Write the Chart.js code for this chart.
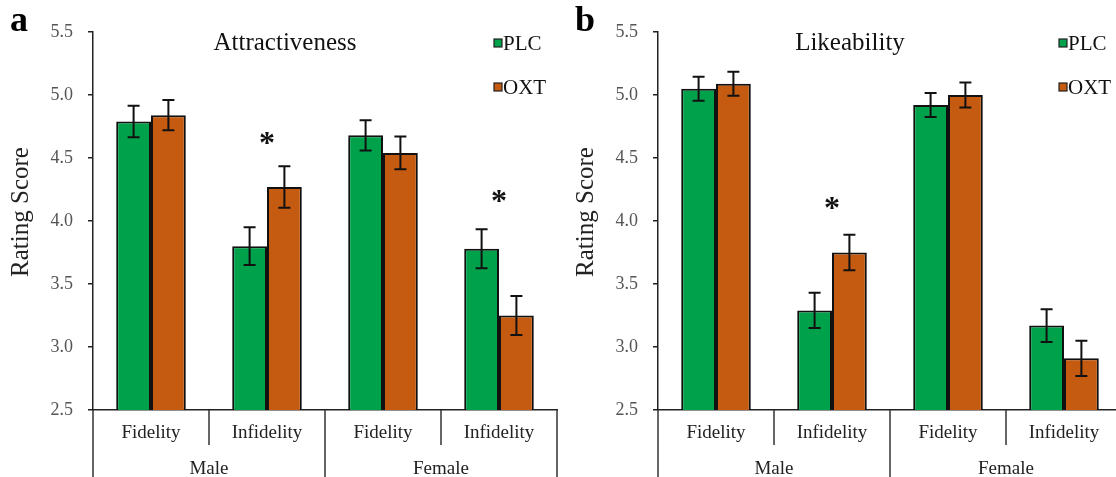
<!DOCTYPE html>
<html><head><meta charset="utf-8">
<script src="https://cdn.jsdelivr.net/npm/chart.js@4.4.1/dist/chart.umd.min.js"></script>
<style>
html,body{margin:0;padding:0;background:#fff;overflow:hidden;width:1116px;height:477px;}
#wa{position:absolute;left:0;top:0;width:558px;height:477px;}
#wb{position:absolute;left:558px;top:0;width:572px;height:477px;}
</style></head><body>
<div id="wa"><canvas id="ca" width="558" height="477"></canvas></div>
<div id="wb"><canvas id="cb" width="572" height="477"></canvas></div>
<script>
const categories = ['Fidelity', 'Infidelity', 'Fidelity', 'Infidelity'];
const groups = ['Male', 'Female'];
const seriesNames = ['PLC', 'OXT'];
const yTicks = [2.5, 3.0, 3.5, 4.0, 4.5, 5.0, 5.5];

const attrPLC = [4.79, 3.80, 4.68, 3.78];
const attrPLCErr = [0.125, 0.15, 0.12, 0.155];
const attrOXT = [4.84, 4.27, 4.54, 3.25];
const attrOXTErr = [0.12, 0.165, 0.13, 0.155];
const attrStars = [null, 4.67, null, 4.21];

const likePLC = [5.05, 3.29, 4.92, 3.17];
const likePLCErr = [0.095, 0.14, 0.095, 0.13];
const likeOXT = [5.09, 3.75, 5.00, 2.91];
const likeOXTErr = [0.095, 0.14, 0.10, 0.14];
const likeStars = [null, 4.15, null, null];

const GREEN = '#00A14B';
const ORANGE = '#C55A11';
const SERIF = '"Liberation Serif", "Times New Roman", serif';

const overlay = {
  id: 'overlay',
  afterDatasetsDraw(chart, args, o) {
    const ctx = chart.ctx;
    const xs = chart.scales.x, ys = chart.scales.y;
    const L = chart.chartArea.left, T = chart.chartArea.top, B = chart.chartArea.bottom;
    const H = chart.height;
    ctx.save();
    // error bars
    ctx.strokeStyle = '#111';
    ctx.lineWidth = 2;
    chart.data.datasets.forEach((ds, di) => {
      const meta = chart.getDatasetMeta(di);
      meta.data.forEach((bar, i) => {
        const v = ds.data[i], e = ds.errors[i];
        const yt = ys.getPixelForValue(v + e), yb = ys.getPixelForValue(v - e);
        ctx.beginPath();
        ctx.moveTo(bar.x, yt); ctx.lineTo(bar.x, yb);
        ctx.moveTo(bar.x - 6, yt); ctx.lineTo(bar.x + 6, yt);
        ctx.moveTo(bar.x - 6, yb); ctx.lineTo(bar.x + 6, yb);
        ctx.stroke();
      });
    });
    // stars
    ctx.fillStyle = '#111';
    ctx.font = 'bold 32px ' + SERIF;
    ctx.textAlign = 'center';
    ctx.textBaseline = 'alphabetic';
    o.stars.forEach((s, i) => {
      if (s === null) return;
      ctx.fillText('*', xs.getPixelForValue(i), ys.getPixelForValue(s) + 16);
    });
    // category dividers
    const half = (xs.getPixelForValue(1) - xs.getPixelForValue(0)) / 2;
    ctx.strokeStyle = '#333';
    ctx.lineWidth = 1.5;
    for (let k = 0; k <= categories.length; k++) {
      const bx = xs.getPixelForValue(0) - half + k * 2 * half;
      ctx.beginPath();
      ctx.moveTo(bx, B);
      ctx.lineTo(bx, k % 2 === 0 ? H : B + 35);
      ctx.stroke();
    }
    // category labels
    ctx.fillStyle = '#222';
    ctx.font = '19px ' + SERIF;
    ctx.textBaseline = 'middle';
    categories.forEach((c, i) => ctx.fillText(c, xs.getPixelForValue(i), B + 23));
    groups.forEach((g, gi) => {
      const cx = (xs.getPixelForValue(2 * gi) + xs.getPixelForValue(2 * gi + 1)) / 2;
      ctx.fillText(g, cx, B + 59);
    });
    // title
    ctx.fillStyle = '#111';
    ctx.font = '25px ' + SERIF;
    ctx.fillText(o.title, L + 192, T + 11);
    // legend
    ctx.textAlign = 'left';
    ctx.font = '21px ' + SERIF;
    chart.data.datasets.forEach((ds, di) => {
      const ly = T + 11 + di * 44;
      ctx.fillStyle = ds.backgroundColor;
      ctx.fillRect(L + 401, ly - 4, 8, 8);
      ctx.strokeStyle = '#222';
      ctx.lineWidth = 1.2;
      ctx.strokeRect(L + 401, ly - 4, 8, 8);
      ctx.fillStyle = '#111';
      ctx.fillText(ds.label, L + 410, ly + 1);
    });
    // y title
    ctx.save();
    ctx.translate(L - 72, (T + B) / 2 - 9);
    ctx.rotate(-Math.PI / 2);
    ctx.textAlign = 'center';
    ctx.font = '25px ' + SERIF;
    ctx.fillStyle = '#222';
    ctx.fillText('Rating Score', 0, 0);
    ctx.restore();
    // panel letter
    ctx.textAlign = 'left';
    ctx.textBaseline = 'alphabetic';
    ctx.font = 'bold 36px ' + SERIF;
    ctx.fillStyle = '#000';
    ctx.fillText(o.letter, L - 83, 31);
    ctx.restore();
  }
};

function makeChart(id, plc, plcErr, oxt, oxtErr, stars, title, letter, leftW, rightPad) {
  return new Chart(document.getElementById(id), {
    type: 'bar',
    data: {
      labels: categories,
      datasets: [
        { label: seriesNames[0], data: plc, errors: plcErr, backgroundColor: GREEN, borderColor: '#111', borderWidth: 2 },
        { label: seriesNames[1], data: oxt, errors: oxtErr, backgroundColor: ORANGE, borderColor: '#111', borderWidth: 2 }
      ]
    },
    options: {
      responsive: false,
      animation: false,
      events: [],
      categoryPercentage: 0.6,
      barPercentage: 1.0,
      layout: { padding: { left: 0, top: 32, right: rightPad, bottom: 0 } },
      plugins: {
        legend: { display: false },
        tooltip: { enabled: false },
        overlay: { stars: stars, title: title, letter: letter }
      },
      scales: {
        x: {
          ticks: { display: false },
          grid: { display: false },
          border: { display: true, color: '#222', width: 1.5 },
          afterFit: s => { s.height = 67; }
        },
        y: {
          min: 2.5, max: 5.5,
          afterBuildTicks: s => { s.ticks = yTicks.map(v => ({ value: v })); },
          ticks: {
            callback: v => Number(v).toFixed(1),
            font: { family: SERIF, size: 18 },
            color: '#555',
            padding: 15
          },
          grid: { drawOnChartArea: false, drawTicks: true, tickLength: 5, color: '#222', lineWidth: 1.5 },
          border: { display: true, color: '#222', width: 1.5 },
          afterFit: s => { s.width = leftW; }
        }
      }
    },
    plugins: [overlay]
  });
}

makeChart('ca', attrPLC, attrPLCErr, attrOXT, attrOXTErr, attrStars, 'Attractiveness', 'a', 93, 1);
makeChart('cb', likePLC, likePLCErr, likeOXT, likeOXTErr, likeStars, 'Likeability', 'b', 100, 8);
</script>
</body></html>
